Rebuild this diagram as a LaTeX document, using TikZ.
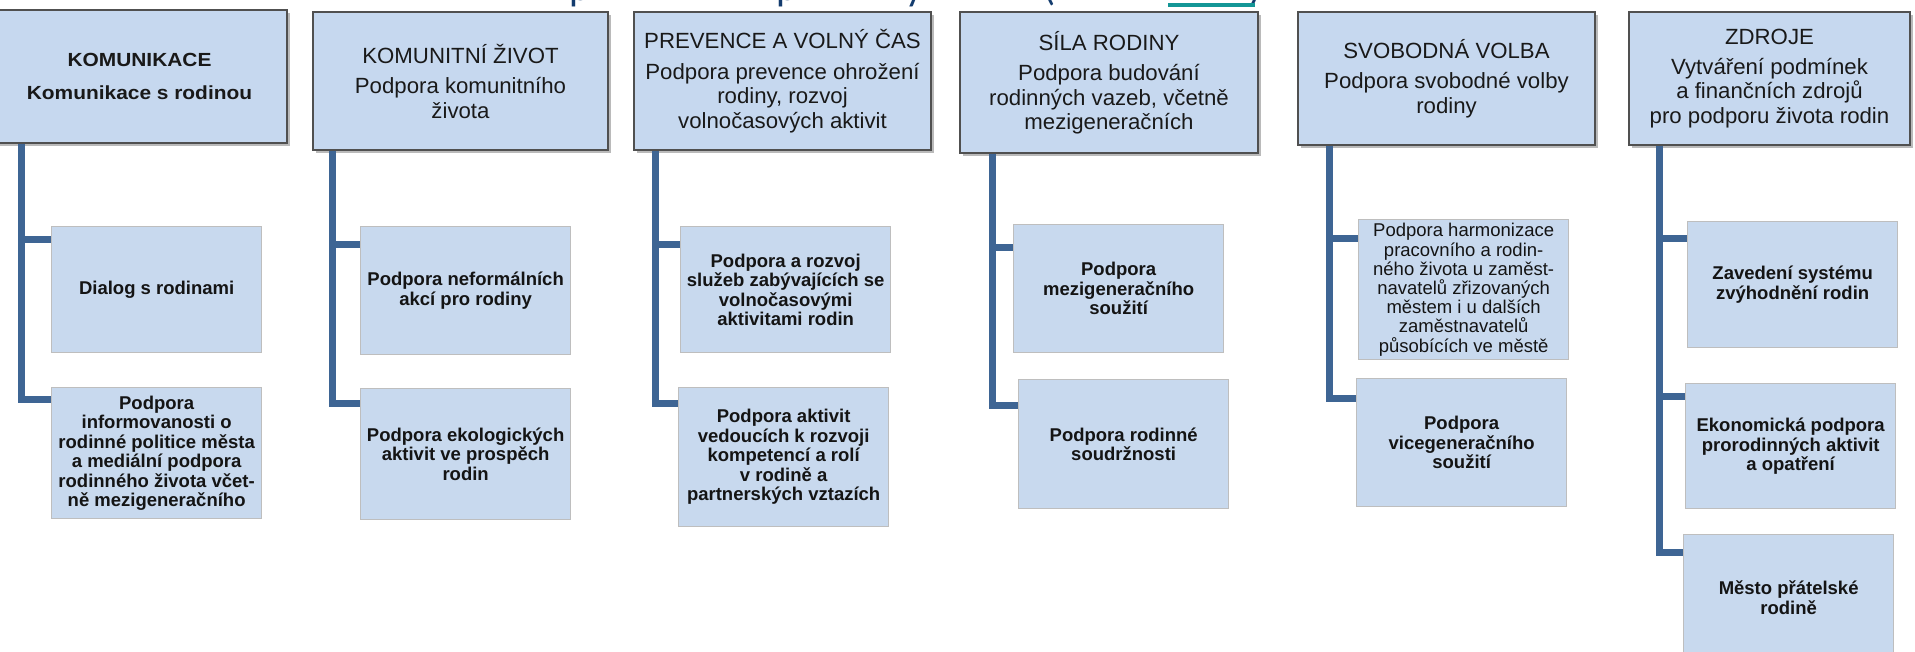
\documentclass[tikz,border=0pt]{standalone}
\usepackage{fontspec}
\setmainfont{Liberation Sans}
\newfontfamily\hdrface[FakeStretch=1.01]{Liberation Sans}
\newfontfamily\hdronface[FakeStretch=1.1]{Liberation Sans}
\newfontfamily\titleface{Carlito}
\usetikzlibrary{calc,shadows}
\definecolor{boxfill}{RGB}{200,217,238}
\definecolor{hdrfill}{RGB}{198,216,239}
\definecolor{connblue}{RGB}{62,101,148}
\definecolor{kidline}{RGB}{190,190,190}
\definecolor{hdrline}{RGB}{80,80,80}
\definecolor{titleblue}{RGB}{20,60,110}
\definecolor{linkteal}{RGB}{20,150,150}
\tikzset{
  hdr/.style={draw=hdrline, line width=1.3pt, fill=hdrfill, align=center, inner sep=0pt,
    text=black!90, drop shadow={shadow xshift=3pt, shadow yshift=-3pt, fill=black!45, opacity=0.6},
    font=\hdrface\fontsize{22pt}{24.5pt}\selectfont},
  hdrone/.style={hdr, font=\hdronface\fontsize{19pt}{33pt}\selectfont\bfseries},
  kid/.style={draw=kidline, line width=1.3pt, fill=boxfill, align=center, inner sep=0pt,
    anchor=north west, minimum width=210pt, text=black!92,
    font=\fontsize{18.5pt}{19.5pt}\selectfont\bfseries},
  kidreg/.style={kid, font=\fontsize{18.5pt}{19.2pt}\selectfont},
  conn/.style={draw=connblue, line width=7pt, line cap=butt, line join=miter},
  frag/.style={anchor=base west, inner sep=0pt, text=titleblue,
    font=\titleface\fontsize{40pt}{40pt}\selectfont},
}
\begin{document}
\begin{tikzpicture}[x=1pt,y=-1pt]
\useasboundingbox (0,0) rectangle (1915,651);
\clip (0,0) rectangle (1915,651);
\fill[white] (0,0) rectangle (1915,651);

% cropped title fragments
\node[frag] (tp1) at (569,0) {p};
\node[frag] (tp2) at (776,0) {p};
\node[frag] (ty) at (905,0) {y};
\node[frag] (tl) at (1043,0) {(};
\node[frag] (tr) at (1249,0) {)};
\fill[linkteal] (1168,2.5) rectangle (1255,6.5);

% headers
\node[hdrone, minimum width=295pt, minimum height=133pt] (h1) at (139.5,76.5)
  {KOMUNIKACE\\Komunikace s rodinou};
\node[hdr, minimum width=295pt, minimum height=138pt] (h2) at (460.5,81)
  {KOMUNITNÍ ŽIVOT\\[6pt]Podpora komunitního\\života};
\node[hdr, minimum width=297pt, minimum height=138pt] (h3) at (782.5,81)
  {PREVENCE A VOLNÝ ČAS\\[6pt]Podpora prevence ohrožení\\rodiny, rozvoj\\volnočasových aktivit};
\node[hdr, minimum width=298pt, minimum height=141pt] (h4) at (1109,82.5)
  {SÍLA RODINY\\[6pt]Podpora budování\\rodinných vazeb, včetně\\mezigeneračních};
\node[hdr, minimum width=297pt, minimum height=133pt] (h5) at (1446.5,78.5)
  {SVOBODNÁ VOLBA\\[6pt]Podpora svobodné volby\\rodiny};
\node[hdr, minimum width=281pt, minimum height=133pt] (h6) at (1769.5,78.5)
  {ZDROJE\\[5pt]Vytváření podmínek\\a finančních zdrojů\\pro podporu života rodin};

% children
\node[kid, minimum height=126pt] (c11) at (51,226) {Dialog s rodinami};
\node[kid, minimum height=131pt] (c12) at (51,387)
  {Podpora\\informovanosti o\\rodinné politice města\\a mediální podpora\\rodinného života včet-\\ně mezigeneračního};
\node[kid, minimum height=128pt] (c21) at (360,226) {Podpora neformálních\\akcí pro rodiny};
\node[kid, minimum height=131pt] (c22) at (360,388) {Podpora ekologických\\aktivit ve prospěch\\rodin};
\node[kid, minimum height=126pt] (c31) at (680,226)
  {Podpora a rozvoj\\služeb zabývajících se\\volnočasovými\\aktivitami rodin};
\node[kid, minimum height=139pt] (c32) at (678,387)
  {Podpora aktivit\\vedoucích k rozvoji\\kompetencí a rolí\\v rodině a\\partnerských vztazích};
\node[kid, minimum height=128pt] (c41) at (1013,224) {Podpora\\mezigeneračního\\soužití};
\node[kid, minimum height=129pt] (c42) at (1018,379) {Podpora rodinné\\soudržnosti};
\node[kidreg, minimum height=140pt] (c51) at (1358,219)
  {Podpora harmonizace\\pracovního a rodin-\\ného života u zaměst-\\navatelů zřizovaných\\městem i u dalších\\zaměstnavatelů\\působících ve městě};
\node[kid, minimum height=128pt] (c52) at (1356,378) {Podpora\\vicegeneračního\\soužití};
\node[kid, minimum height=126pt] (c61) at (1687,221) {Zavedení systému\\zvýhodnění rodin};
\node[kid, minimum height=125pt] (c62) at (1685,383) {Ekonomická podpora\\prorodinných aktivit\\a opatření};
\node[kid, minimum height=126pt] (c63) at (1683,534) {Město přátelské\\rodině};

% connector anchor points
\coordinate (v1) at ($(h1.south west)+(30,0)$);
\coordinate (v2) at ($(h2.south west)+(20,0)$);
\coordinate (v3) at ($(h3.south west)+(22,0)$);
\coordinate (v4) at ($(h4.south west)+(33,0)$);
\coordinate (v5) at ($(h5.south west)+(32,0)$);
\coordinate (v6) at ($(h6.south west)+(31,0)$);
\coordinate (b11) at ($(c11.north west)+(0,13)$);
\coordinate (b12) at ($(c12.north west)+(0,12)$);
\coordinate (b21) at ($(c21.north west)+(0,18)$);
\coordinate (b22) at ($(c22.north west)+(0,15)$);
\coordinate (b31) at ($(c31.north west)+(0,18)$);
\coordinate (b32) at ($(c32.north west)+(0,16)$);
\coordinate (b41) at ($(c41.north west)+(0,23)$);
\coordinate (b42) at ($(c42.north west)+(0,26)$);
\coordinate (b51) at ($(c51.north west)+(0,19)$);
\coordinate (b52) at ($(c52.north west)+(0,20)$);
\coordinate (b61) at ($(c61.north west)+(0,17)$);
\coordinate (b62) at ($(c62.north west)+(0,13)$);
\coordinate (b63) at ($(c63.north west)+(0,18)$);

% connectors
\draw[conn] (v1) |- (b12);
\draw[conn] (v1 |- b11) -- (b11);
\draw[conn] (v2) |- (b22);
\draw[conn] (v2 |- b21) -- (b21);
\draw[conn] (v3) |- (b32);
\draw[conn] (v3 |- b31) -- (b31);
\draw[conn] (v4) |- (b42);
\draw[conn] (v4 |- b41) -- (b41);
\draw[conn] (v5) |- (b52);
\draw[conn] (v5 |- b51) -- (b51);
\draw[conn] (v6) |- (b63);
\draw[conn] (v6 |- b61) -- (b61);
\draw[conn] (v6 |- b62) -- (b62);
\end{tikzpicture}
\end{document}
